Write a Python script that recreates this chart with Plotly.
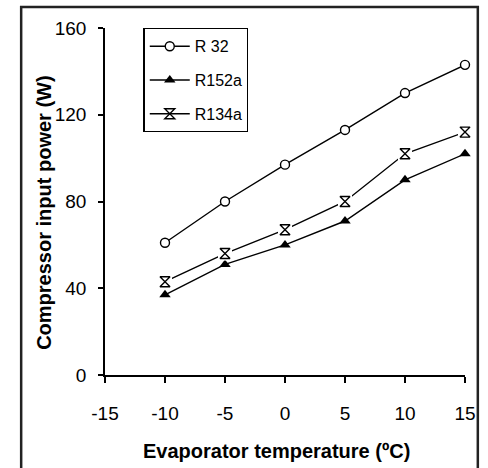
import plotly.graph_objects as go

temps = [-10, -5, 0, 5, 10, 15]
r32 = [61, 80, 97, 113, 130, 143]
r152a = [37, 51, 60, 71, 90, 102]
r134a = [43, 56, 67, 80, 102, 112]

x_ticks = [-15, -10, -5, 0, 5, 10, 15]
y_ticks = [0, 40, 80, 120, 160]

FONT = "Liberation Sans, Arial, sans-serif"

fig = go.Figure()

fig.add_trace(go.Scatter(
    x=temps, y=r32, name="R 32", mode="lines+markers", legendgroup="a", cliponaxis=False,
    line=dict(color="black", width=1.4),
    marker=dict(symbol="circle", size=9, color="white", line=dict(color="black", width=1.4)),
))
fig.add_trace(go.Scatter(
    x=temps, y=r152a, name="R152a", mode="lines+markers", legendgroup="b", cliponaxis=False,
    line=dict(color="black", width=1.4),
    marker=dict(symbol="triangle-up", size=10, color="black"),
))
fig.add_trace(go.Scatter(
    x=temps, y=r134a, name="R134a", mode="lines+markers", legendgroup="c", cliponaxis=False,
    line=dict(color="black", width=1.4),
    marker=dict(symbol="hourglass-open", size=10, color="black", line=dict(color="black", width=1.4)),
))
# white mask to create gaps in the R134a line near markers
fig.add_trace(go.Scatter(
    x=temps, y=r134a, mode="markers", showlegend=False, hoverinfo="skip", cliponaxis=False,
    marker=dict(symbol="square", size=14, color="white"),
))
fig.add_trace(go.Scatter(
    x=temps, y=r134a, mode="markers", showlegend=False, cliponaxis=False,
    marker=dict(symbol="hourglass-open", size=10, color="black", line=dict(color="black", width=1.4)),
))

L, R, T, B = 105, 18, 28, 93
W, H = 488, 468
pw, ph = W - L - R, H - T - B

def px_x(p):
    return (p - L) / pw

def px_y(p):
    return (H - B - p) / ph

fig.add_shape(type="rect", xref="paper", yref="paper",
              x0=px_x(20), x1=px_x(483), y0=px_y(475), y1=px_y(7),
              line=dict(color="#222", width=2.5), layer="below")

fig.add_annotation(text="<b>Compressor input power (W)</b>", xref="paper", yref="paper",
                   x=px_x(43), y=px_y(213), textangle=-90, showarrow=False,
                   xanchor="center", yanchor="middle", font=dict(size=20, family=FONT, color="black"))
fig.add_annotation(text="<b>Evaporator temperature (ºC)</b>", xref="paper", yref="paper",
                   x=px_x(279), y=px_y(451), showarrow=False,
                   xanchor="center", yanchor="middle", font=dict(size=20, family=FONT, color="black"))

fig.update_layout(
    width=W, height=H,
    margin=dict(l=L, r=R, t=T, b=B),
    paper_bgcolor="white", plot_bgcolor="white",
    font=dict(family=FONT, size=19, color="black"),
    legend=dict(
        x=px_x(144), y=1.0, xanchor="left", yanchor="top",
        bordercolor="black", borderwidth=1.3, bgcolor="white",
        font=dict(size=16, family=FONT), traceorder="grouped",
        tracegroupgap=10, itemwidth=40,
    ),
    xaxis=dict(
        range=[-15, 15], tickvals=x_ticks, ticktext=[str(v) for v in x_ticks],
        showgrid=False, zeroline=False, showline=True, linecolor="black", linewidth=1.5,
        ticks="outside", ticklen=6, tickwidth=1.5, tickcolor="black",
        ticklabelstandoff=14, tickfont=dict(size=19),
    ),
    yaxis=dict(
        range=[0, 160], tickvals=y_ticks, ticktext=[str(v) for v in y_ticks],
        showgrid=False, zeroline=False, showline=True, linecolor="black", linewidth=1.5,
        ticks="outside", ticklen=5, tickwidth=1.5, tickcolor="black",
        ticklabelstandoff=8, tickfont=dict(size=19),
    ),
)

fig.write_html("out.html")
